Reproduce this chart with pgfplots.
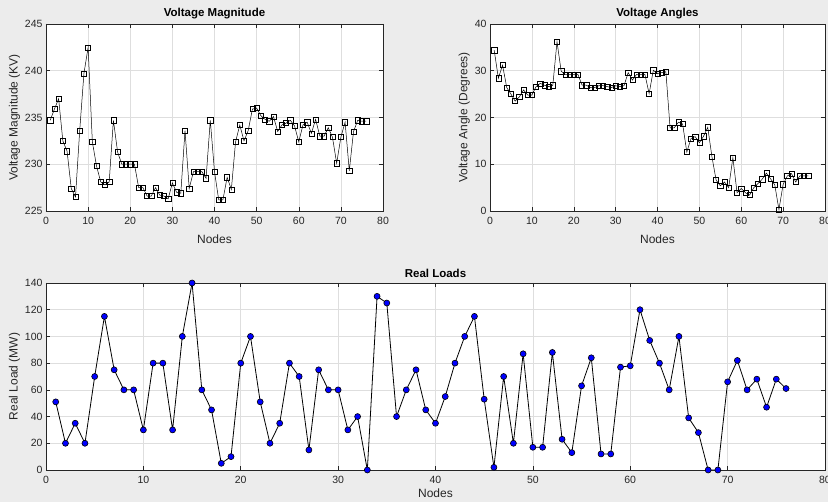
\documentclass[border=0pt]{standalone}
\usepackage{pgfplots}
\pgfplotsset{compat=1.18}
\usepackage{fontspec}
\setmainfont{Liberation Sans}

\definecolor{figbg}{RGB}{236,236,236}
\definecolor{axcol}{RGB}{38,38,38}
\definecolor{gridcol}{RGB}{222,222,222}
\definecolor{ptblue}{RGB}{0,0,255}

\pgfplotsset{
  matlab/.style={
    scale only axis,
    anchor=south west,
    axis background/.style={fill=white},
    axis line style={axcol, line width=0.6pt},
    every tick/.style={axcol, line width=0.5pt},
    tick align=inside,
    major tick length=4pt,
    grid=major,
    major grid style={gridcol, line width=0.5pt},
    ticklabel style={font=\fontsize{10.5}{12}\selectfont, text=axcol},
    xticklabel style={yshift=-3pt},
    label style={font=\fontsize{12}{14}\selectfont, text=axcol},
    title style={font=\bfseries\fontsize{11.5}{13}\selectfont, at={(0.5,1)}, anchor=south, yshift=-4pt},
    /pgf/number format/assume math mode=true,
    xmin=0, xmax=80, xtick={0,10,...,80},
    xlabel={Nodes},
    xlabel style={yshift=-3pt},
    ylabel style={yshift=-2pt},
    scaled ticks=false,
  },
  vplot/.style={black, line width=0.5pt, mark=square, mark size=2.6pt,
    mark options={solid, fill=white, draw=black, line width=0.5pt}},
}

\begin{document}
\begin{tikzpicture}[x=1pt,y=1pt]
\useasboundingbox (0,0) rectangle (828,502);
\fill[figbg] (0,0) rectangle (828,502);

\begin{axis}[matlab, at={(46pt,291pt)}, width=337pt, height=187pt,
  title={Voltage Magnitude},
  ymin=225, ymax=245, ytick={225,230,235,240,245},
  ylabel={Voltage Magnitude (KV)}]
\addplot[vplot] coordinates {
(1,234.7)(2,235.9)(3,237.0)(4,232.5)(5,231.4)(6,227.4)(7,226.5)(8,233.6)(9,239.7)(10,242.5)
(11,232.4)(12,229.8)(13,228.1)(14,227.8)(15,228.1)(16,234.7)(17,231.3)(18,230.0)(19,230.0)(20,230.0)
(21,230.0)(22,227.5)(23,227.5)(24,226.6)(25,226.6)(26,227.5)(27,226.7)(28,226.6)(29,226.3)(30,228.0)
(31,227.0)(32,226.9)(33,233.6)(34,227.4)(35,229.2)(36,229.2)(37,229.2)(38,228.5)(39,234.7)(40,229.2)
(41,226.2)(42,226.2)(43,228.6)(44,227.3)(45,232.4)(46,234.2)(47,232.5)(48,233.6)(49,235.9)(50,236.0)
(51,235.2)(52,234.8)(53,234.6)(54,235.1)(55,233.5)(56,234.2)(57,234.4)(58,234.7)(59,234.1)(60,232.4)
(61,234.2)(62,234.5)(63,233.3)(64,234.8)(65,233.0)(66,233.0)(67,233.9)(68,232.9)(69,230.1)(70,232.9)
(71,234.5)(72,229.3)(73,233.5)(74,234.7)(75,234.6)(76,234.6)
};
\end{axis}

\begin{axis}[matlab, at={(490pt,291pt)}, width=335pt, height=187pt,
  title={Voltage Angles},
  ymin=0, ymax=40, ytick={0,10,20,30,40},
  ylabel={Voltage Angle (Degrees)}]
\addplot[vplot] coordinates {
(1,34.4)(2,28.4)(3,31.2)(4,26.4)(5,25.0)(6,23.5)(7,24.4)(8,25.9)(9,24.8)(10,24.8)
(11,26.6)(12,27.3)(13,26.9)(14,26.6)(15,26.9)(16,36.2)(17,29.9)(18,29.2)(19,29.2)(20,29.2)
(21,29.2)(22,26.9)(23,26.9)(24,26.4)(25,26.4)(26,26.8)(27,26.8)(28,26.6)(29,26.4)(30,26.8)
(31,26.6)(32,26.8)(33,29.6)(34,28.0)(35,29.2)(36,29.2)(37,29.2)(38,25.1)(39,30.1)(40,29.4)
(41,29.6)(42,29.8)(43,17.8)(44,17.8)(45,19.0)(46,18.6)(47,12.6)(48,15.5)(49,15.9)(50,14.6)
(51,16.0)(52,17.9)(53,11.6)(54,6.6)(55,5.4)(56,6.2)(57,5.0)(58,11.4)(59,3.9)(60,4.8)
(61,3.9)(62,3.4)(63,5.0)(64,5.9)(65,6.8)(66,8.1)(67,6.9)(68,5.6)(69,0.3)(70,5.7)
(71,7.5)(72,8.0)(73,6.2)(74,7.5)(75,7.5)(76,7.5)
};
\end{axis}

\begin{axis}[matlab, at={(46pt,32pt)}, width=779pt, height=187pt,
  title={Real Loads},
  xlabel style={yshift=5pt},
  ymin=0, ymax=140, ytick={0,20,...,140},
  ylabel={Real Load (MW)}]
\addplot[black, line width=0.8pt, mark=*, mark size=3pt,
  mark options={solid, fill=ptblue, draw=black, line width=0.6pt}] coordinates {
(1,51)(2,20)(3,35)(4,20)(5,70)(6,115)(7,75)(8,60)(9,60)(10,30)
(11,80)(12,80)(13,30)(14,100)(15,140)(16,60)(17,45)(18,5)(19,10)(20,80)
(21,100)(22,51)(23,20)(24,35)(25,80)(26,70)(27,15)(28,75)(29,60)(30,60)
(31,30)(32,40)(33,0)(34,130)(35,125)(36,40)(37,60)(38,75)(39,45)(40,35)
(41,55)(42,80)(43,100)(44,115)(45,53)(46,2)(47,70)(48,20)(49,87)(50,17)
(51,17)(52,88)(53,23)(54,13)(55,63)(56,84)(57,12)(58,12)(59,77)(60,78)
(61,120)(62,97)(63,80)(64,60)(65,100)(66,39)(67,28)(68,0)(69,0)(70,66)
(71,82)(72,60)(73,68)(74,47)(75,68)(76,61)
};
\end{axis}
\end{tikzpicture}
\end{document}
